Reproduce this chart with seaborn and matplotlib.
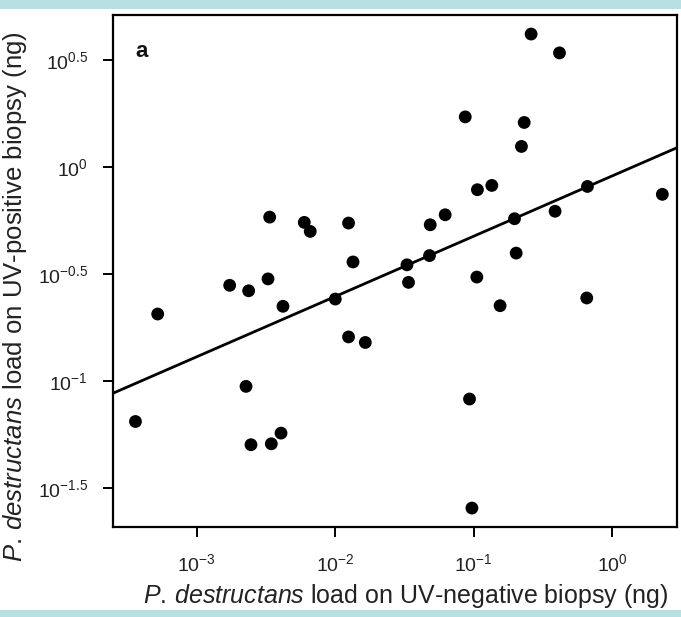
import numpy as np
import pandas as pd
import matplotlib
matplotlib.use("Agg")
import matplotlib.pyplot as plt
from matplotlib.patches import Rectangle
from matplotlib.ticker import FixedLocator, FixedFormatter, NullLocator
import seaborn as sns

# ---- data (ng) ----
uv_negative = [0.000360, 0.000521, 0.001726, 0.002366, 0.003266, 0.003357, 0.005970,
               0.006592, 0.01247, 0.01343, 0.004188, 0.0100, 0.01247, 0.01648,
               0.002265, 0.002460, 0.003451, 0.004055, 0.03296, 0.03381, 0.04797,
               0.04853, 0.06223, 0.08690, 0.1054, 0.1064, 0.1352, 0.1552, 0.1972,
               0.2028, 0.2213, 0.2317, 0.2600, 0.3873, 0.4169, 0.6637, 0.6561,
               2.307, 0.0933, 0.0971]
uv_positive = [0.0647, 0.2056, 0.280, 0.264, 0.300, 0.583, 0.551,
               0.500, 0.547, 0.360, 0.2234, 0.2415, 0.1607, 0.1514,
               0.0944, 0.0504, 0.0509, 0.0571, 0.349, 0.289, 0.3855,
               0.537, 0.598, 1.714, 0.306, 0.783, 0.820, 0.2249, 0.573,
               0.396, 1.247, 1.614, 4.178, 0.621, 3.412, 0.811, 0.2443,
               0.745, 0.0824, 0.0255]

# log-log regression line (log10 y = slope * log10 x + intercept)
fit_slope = 0.2815
fit_intercept = -0.042

x_ticks = [1e-3, 1e-2, 1e-1, 1e0]
x_ticklabels = [r'$10^{-3}$', r'$10^{-2}$', r'$10^{-1}$', r'$10^{0}$']
y_ticks = [10 ** 0.5, 10 ** 0, 10 ** -0.5, 10 ** -1, 10 ** -1.5]
y_ticklabels = [r'$10^{0.5}$', r'$10^{0}$', r'$10^{-0.5}$', r'$10^{-1}$', r'$10^{-1.5}$']
x_limits = (10 ** -3.606, 10 ** 0.469)
y_limits = (10 ** -1.682, 10 ** 0.710)

df = pd.DataFrame({"neg": uv_negative, "pos": uv_positive})

sns.set_theme(style="white")
plt.rcParams['font.family'] = ['Liberation Sans', 'DejaVu Sans']
plt.rcParams['mathtext.fontset'] = 'custom'
plt.rcParams['mathtext.rm'] = 'Liberation Sans'
plt.rcParams['mathtext.it'] = 'Liberation Sans:italic'
plt.rcParams['mathtext.bf'] = 'Liberation Sans:bold'

fig = plt.figure(figsize=(6.81, 6.17), dpi=100)
fig.patch.set_facecolor('white')
band = '#b8e0e3'
fig.patches.append(Rectangle((0, 1 - 9 / 617), 1, 9 / 617, transform=fig.transFigure,
                             facecolor=band, edgecolor='none', zorder=-1))
fig.patches.append(Rectangle((0, 0), 1, 7 / 617, transform=fig.transFigure,
                             facecolor=band, edgecolor='none', zorder=-1))

ax = fig.add_axes([113 / 681, 1 - 527 / 617, 564 / 681, 512 / 617])
ax.set_xscale('log')
ax.set_yscale('log')

sns.scatterplot(data=df, x="neg", y="pos", ax=ax, color='black', s=85,
                edgecolor='none', zorder=3)

line_x = np.logspace(np.log10(x_limits[0]), np.log10(x_limits[1]), 50)
line_df = pd.DataFrame({"x": line_x,
                        "y": 10 ** (fit_slope * np.log10(line_x) + fit_intercept)})
sns.lineplot(data=line_df, x="x", y="y", ax=ax, color='black', linewidth=2.0, zorder=2)

ax.set_xlim(*x_limits)
ax.set_ylim(*y_limits)

ax.xaxis.set_major_locator(FixedLocator(x_ticks))
ax.xaxis.set_major_formatter(FixedFormatter(x_ticklabels))
ax.yaxis.set_major_locator(FixedLocator(y_ticks))
ax.yaxis.set_major_formatter(FixedFormatter(y_ticklabels))
ax.xaxis.set_minor_locator(NullLocator())
ax.yaxis.set_minor_locator(NullLocator())

for sp in ax.spines.values():
    sp.set_visible(True)
    sp.set_color('black')
    sp.set_linewidth(1.6)

ax.tick_params(axis='both', which='major', direction='out', length=7, width=1.4,
               color='black', labelsize=14, labelcolor='#222222',
               bottom=True, left=True)
ax.tick_params(axis='x', pad=12)
ax.tick_params(axis='y', pad=11)

ax.set_xlabel(r'$\mathit{P.\,destructans}$ load on UV-negative biopsy (ng)',
              fontsize=18, color='#222222')
ax.set_ylabel(r'$\mathit{P.\,destructans}$ load on UV-positive biopsy (ng)',
              fontsize=18.5, color='#222222')
ax.xaxis.label.set(ha='center', va='center')
ax.yaxis.label.set(ha='center', va='center', rotation_mode='anchor')
ax.xaxis.set_label_coords((406 - 113) / 564, (527 - 596) / 512)
ax.yaxis.set_label_coords((15 - 113) / 564, (527 - 297) / 512)

ax.text((141.7 - 113) / 564, (527 - 51.7) / 512, 'a', transform=ax.transAxes,
        fontsize=16, fontweight='bold', ha='center', va='center', color='#111111')

fig.savefig('out.png', dpi=100)
